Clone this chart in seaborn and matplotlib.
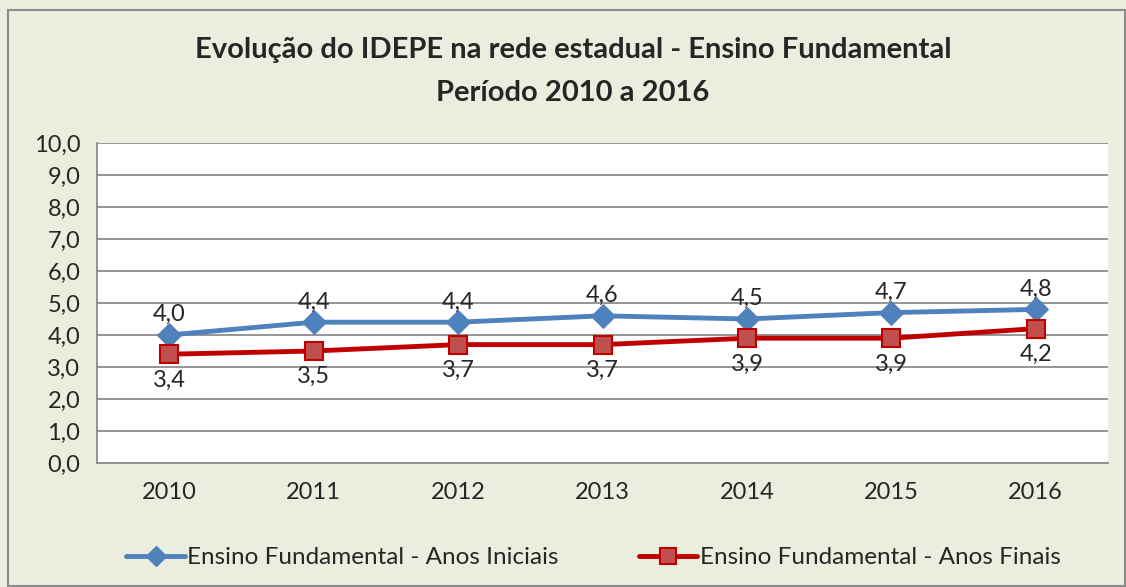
import pandas as pd
import matplotlib.pyplot as plt
import seaborn as sns
from matplotlib.patches import Rectangle

# data
anos = ["2010", "2011", "2012", "2013", "2014", "2015", "2016"]
anos_iniciais = [4.0, 4.4, 4.4, 4.6, 4.5, 4.7, 4.8]
anos_finais = [3.4, 3.5, 3.7, 3.7, 3.9, 3.9, 4.2]
serie_ini = "Ensino Fundamental - Anos Iniciais"
serie_fin = "Ensino Fundamental - Anos Finais"

df = pd.DataFrame({
    "ano": anos * 2,
    "valor": anos_iniciais + anos_finais,
    "serie": [serie_ini] * len(anos) + [serie_fin] * len(anos),
})

sns.set_style("white")
plt.rcParams["font.family"] = ["Lato", "DejaVu Sans"]

bg = "#EBEEDE"
fs = 17
fig = plt.figure(figsize=(11.26, 5.87), dpi=100, facecolor=bg)
fig.patches.append(Rectangle((8 / 1126, 0.002), 1 - 9 / 1126, 1 - 10 / 587 - 0.002,
                             transform=fig.transFigure, fill=False,
                             edgecolor="#8C8C8C", linewidth=1.5))
ax = fig.add_axes([97 / 1126, 124 / 587, 1011 / 1126, 320 / 587])

cores = {serie_ini: "#4F81BD", serie_fin: "#C00000"}
sns.lineplot(data=df, x="ano", y="valor", hue="serie", style="serie",
             markers={serie_ini: "D", serie_fin: "s"}, dashes=False,
             palette=cores, linewidth=3.5, markersize=13, ax=ax, legend=False)

# marker styling like Excel
linhas = ax.get_lines()
linhas[0].set_markerfacecolor("#4F81BD")
linhas[0].set_markeredgecolor("#4F81BD")
linhas[0].set_markersize(12)
linhas[1].set_markerfacecolor("#C0504D")
linhas[1].set_markeredgecolor("#C00000")
linhas[1].set_markeredgewidth(1.5)

# data labels
for i, v in enumerate(anos_iniciais):
    ax.annotate(f"{v:.1f}".replace(".", ","), (i, v), xytext=(0, 7),
                textcoords="offset points", ha="center", va="bottom", fontsize=fs)
for i, v in enumerate(anos_finais):
    ax.annotate(f"{v:.1f}".replace(".", ","), (i, v), xytext=(0, -11),
                textcoords="offset points", ha="center", va="top", fontsize=fs)

ax.set_xlim(-0.5, 6.5)
ax.set_ylim(0, 10)
ax.set_yticks(range(0, 11))
ax.set_yticklabels([f"{t},0" for t in range(0, 11)], fontsize=fs)
ax.set_xticks(range(len(anos)))
ax.set_xticklabels(anos, fontsize=fs)
ax.set_xticks([x - 0.5 for x in range(len(anos) + 1)], minor=True)
ax.tick_params(axis="x", which="major", length=0, pad=14)
ax.tick_params(axis="x", which="minor", length=7, width=1.3, color="#8C8C8C")
ax.tick_params(axis="y", length=7, width=1.3, color="#8C8C8C", pad=5)
ax.grid(axis="y", color="#8C8C8C", linewidth=1.3)
ax.set_axisbelow(True)
ax.set_xlabel("")
ax.set_ylabel("")
ax.set_facecolor("white")
for lado in ["top", "right"]:
    ax.spines[lado].set_visible(False)
for lado in ["left", "bottom"]:
    ax.spines[lado].set_color("#8C8C8C")
    ax.spines[lado].set_linewidth(1.3)

fig.text(0.509, 0.915, "Evolução do IDEPE na rede estadual - Ensino Fundamental",
         ha="center", va="center", fontsize=21, fontweight="bold")
fig.text(0.509, 0.842, "Período 2010 a 2016",
         ha="center", va="center", fontsize=21, fontweight="bold")

handles = [plt.Line2D([], [], color="#4F81BD", lw=3.5, marker="D", markersize=10,
                      markerfacecolor="#4F81BD", markeredgecolor="#4F81BD"),
           plt.Line2D([], [], color="#C00000", lw=3.5, marker="s", markersize=11,
                      markerfacecolor="#C0504D", markeredgecolor="#C00000",
                      markeredgewidth=1.5)]
fig.legend(handles, [serie_ini, serie_fin], loc="center", ncol=2,
           bbox_to_anchor=(0.527, 0.05), frameon=False, fontsize=17.5,
           handlelength=2.4, handletextpad=0.1, columnspacing=3.3)

fig.savefig("out.png", dpi=100, facecolor=bg)
